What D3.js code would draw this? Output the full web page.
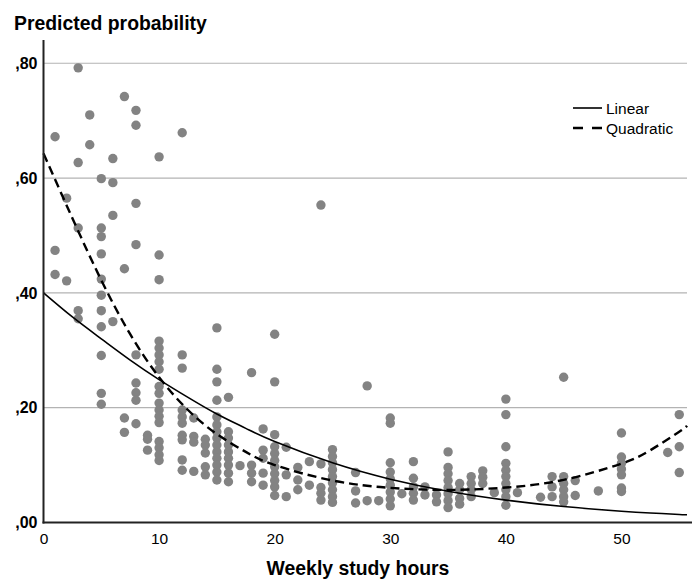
<!DOCTYPE html>
<html>
<head>
<meta charset="utf-8">
<script src="https://cdn.jsdelivr.net/npm/d3@7"></script>
<style>
  body { margin: 0; background: #fff; }
  text { font-family: "Liberation Sans", Arial, sans-serif; }
</style>
</head>
<body>
<svg id="chart"></svg>
<script>
// observed points: study hours and predicted probability (parallel arrays)
var studyHours = [
  1,1,1, 2,2, 3,3,3,3,3, 4,4,
  5,5,5,5,5,5,5,5,5,5,5,
  6,6,6,6, 7,7,7,7,
  8,8,8,8,8,8,8,8,8, 9,9,9,
  10,10,10,10,10,10,10,10,10,10,10,10,10,10,10,10,10,10,
  12,12,12,12,12,12,12,12,12,12, 13,13,13,13, 14,14,14,14,14,
  15,15,15,15,15,15,15,15,15,15,15,15,15,15,
  16,16,16,16,16,16,16,16,16, 17, 18,18,18,18, 19,19,19,19,19,
  20,20,20,20,20,20,20,20,20,20,20, 21,21,21, 22,22,22, 23,23,
  24,24,24,24,24, 25,25,25,25,25,25,25,25,25, 27,27,27, 28,28, 29,
  30,30,30,30,30,30,30,30,30, 31, 32,32,32,32,32, 33,33, 34,34,
  35,35,35,35,35,35,35,35, 36,36,36,36, 37,37,37,37, 38,38,38, 39,
  40,40,40,40,40,40,40,40,40,40, 41, 43, 44,44,44, 45,45,45,45,45,45,
  46,46, 48, 50,50,50,50,50,50,50, 54, 55,55,55
];
var predicted = [
  0.672,0.474,0.432, 0.565,0.421, 0.792,0.627,0.513,0.369,0.355, 0.710,0.658,
  0.599,0.513,0.498,0.468,0.424,0.396,0.369,0.341,0.291,0.225,0.206,
  0.634,0.592,0.535,0.350, 0.742,0.442,0.182,0.157,
  0.718,0.692,0.556,0.484,0.292,0.243,0.226,0.213,0.172, 0.152,0.145,0.126,
  0.637,0.466,0.423,0.316,0.304,0.292,0.280,0.267,0.237,0.225,0.208,0.196,0.185,0.174,0.141,0.130,0.118,0.108,
  0.679,0.292,0.269,0.196,0.184,0.173,0.152,0.144,0.109,0.091, 0.182,0.150,0.140,0.089, 0.145,0.135,0.121,0.097,0.083,
  0.339,0.267,0.245,0.213,0.184,0.170,0.158,0.147,0.135,0.123,0.112,0.100,0.088,0.074,
  0.218,0.158,0.147,0.135,0.123,0.112,0.100,0.086,0.071, 0.099, 0.261,0.100,0.086,0.071, 0.163,0.126,0.112,0.086,0.065,
  0.328,0.245,0.153,0.132,0.120,0.108,0.097,0.085,0.073,0.062,0.047, 0.131,0.083,0.045, 0.096,0.074,0.057, 0.106,0.065,
  0.553,0.102,0.061,0.051,0.039, 0.127,0.115,0.104,0.092,0.080,0.069,0.057,0.045,0.035, 0.087,0.055,0.034, 0.238,0.038, 0.038,
  0.182,0.173,0.104,0.088,0.076,0.065,0.053,0.041,0.029, 0.050, 0.106,0.077,0.062,0.051,0.039, 0.062,0.048, 0.048,0.036,
  0.123,0.096,0.085,0.073,0.061,0.050,0.038,0.026, 0.068,0.057,0.042,0.032, 0.080,0.068,0.057,0.045, 0.090,0.079,0.068, 0.052,
  0.215,0.188,0.132,0.103,0.091,0.080,0.068,0.057,0.045,0.030, 0.052, 0.044, 0.080,0.062,0.045, 0.253,0.080,0.068,0.057,0.045,0.036,
  0.073,0.047, 0.055, 0.156,0.114,0.103,0.093,0.083,0.060,0.054, 0.122, 0.188,0.132,0.087
];

// fitted curves
var curveHours = [0, 2.5, 5, 7.5, 10, 12.5, 15, 17.5, 20, 25, 30, 35, 40, 45, 50, 52.5, 55, 55.67];
var linearFit  = [0.400, 0.358, 0.320, 0.283, 0.249, 0.218, 0.189, 0.164, 0.141, 0.104, 0.0755, 0.0544, 0.0390, 0.0278, 0.0197, 0.0166, 0.0140, 0.0134];
var quadFit    = [0.643, 0.530, 0.422, 0.328, 0.253, 0.196, 0.154, 0.123, 0.100, 0.0732, 0.0604, 0.0568, 0.0609, 0.0743, 0.1027, 0.1259, 0.158, 0.1685];

var xTicks = [0, 10, 20, 30, 40, 50];
var yTicks = [0, 0.2, 0.4, 0.6, 0.8];
var yTickLabels = [",00", ",20", ",40", ",60", ",80"];

var W = 694, H = 579;
var svg = d3.select("#chart").attr("width", W).attr("height", H);

var x = d3.scaleLinear().domain([0, 55.67]).range([43.5, 687]);
var y = d3.scaleLinear().domain([0, 0.84]).range([522.5, 40.3]);

// gridlines
svg.append("g")
  .selectAll("line")
  .data(yTicks.slice(1))
  .enter()
  .append("line")
    .attr("x1", x(0)).attr("x2", x(55.67))
    .attr("y1", function (d) { return y(d); })
    .attr("y2", function (d) { return y(d); })
    .style("stroke", "#b3b3b3")
    .style("stroke-width", 1.2);

// points
svg.append("g")
  .selectAll("circle")
  .data(studyHours)
  .enter()
  .append("circle")
    .attr("cx", function (d) { return x(d); })
    .attr("cy", function (d, i) { return y(predicted[i]); })
    .attr("r", 4.7)
    .style("fill", "#838383");

// fitted lines
var line = d3.line()
  .x(function (d) { return x(d[0]); })
  .y(function (d) { return y(d[1]); })
  .curve(d3.curveNatural);

svg.append("path")
  .datum(d3.zip(curveHours, linearFit))
  .attr("d", line)
  .style("fill", "none")
  .style("stroke", "#000")
  .style("stroke-width", 1.6);

svg.append("path")
  .datum(d3.zip(curveHours, quadFit))
  .attr("d", line)
  .style("fill", "none")
  .style("stroke", "#000")
  .style("stroke-width", 2.4)
  .style("stroke-dasharray", "9,5");

// axes (SPSS style, no tick marks)
var xAxis = svg.append("g")
  .attr("transform", "translate(0," + y(0) + ")")
  .call(d3.axisBottom(x).tickValues(xTicks).tickSize(0).tickPadding(10).tickFormat(d3.format("d")));
xAxis.select(".domain").remove();
xAxis.selectAll(".tick text")
  .style("font-size", "15.5px")
  .style("font-family", "'Liberation Sans', Arial, sans-serif")
  .style("fill", "#000");

var yAxis = svg.append("g")
  .attr("transform", "translate(" + x(0) + ",0)")
  .call(d3.axisLeft(y).tickValues(yTicks).tickSize(0).tickPadding(6)
    .tickFormat(function (d, i) { return yTickLabels[i]; }));
yAxis.select(".domain").remove();
yAxis.selectAll(".tick text")
  .style("font-size", "16px")
  .style("font-weight", "bold")
  .style("font-family", "'Liberation Sans', Arial, sans-serif")
  .style("fill", "#000");

svg.append("line")
  .attr("x1", x(0)).attr("x2", x(0))
  .attr("y1", 40).attr("y2", y(0) + 1)
  .style("stroke", "#222").style("stroke-width", 2);
svg.append("line")
  .attr("x1", x(0) - 1).attr("x2", 692)
  .attr("y1", y(0)).attr("y2", y(0))
  .style("stroke", "#222").style("stroke-width", 2);

// titles
svg.append("text")
  .attr("x", 14).attr("y", 30)
  .style("font-size", "19.4px").style("font-weight", "bold")
  .text("Predicted probability");

svg.append("text")
  .attr("x", 358).attr("y", 575)
  .attr("text-anchor", "middle")
  .style("font-size", "19.4px").style("font-weight", "bold")
  .text("Weekly study hours");

// legend
var legend = svg.append("g");
legend.append("line")
  .attr("x1", 573).attr("x2", 602).attr("y1", 108).attr("y2", 108)
  .style("stroke", "#000").style("stroke-width", 1.6);
legend.append("line")
  .attr("x1", 573).attr("x2", 602).attr("y1", 128).attr("y2", 128)
  .style("stroke", "#000").style("stroke-width", 2.4)
  .style("stroke-dasharray", "10,9");
legend.append("text")
  .attr("x", 606).attr("y", 113.5)
  .style("font-size", "15.5px")
  .text("Linear");
legend.append("text")
  .attr("x", 606).attr("y", 133.5)
  .style("font-size", "15.5px")
  .text("Quadratic");
</script>
</body>
</html>
